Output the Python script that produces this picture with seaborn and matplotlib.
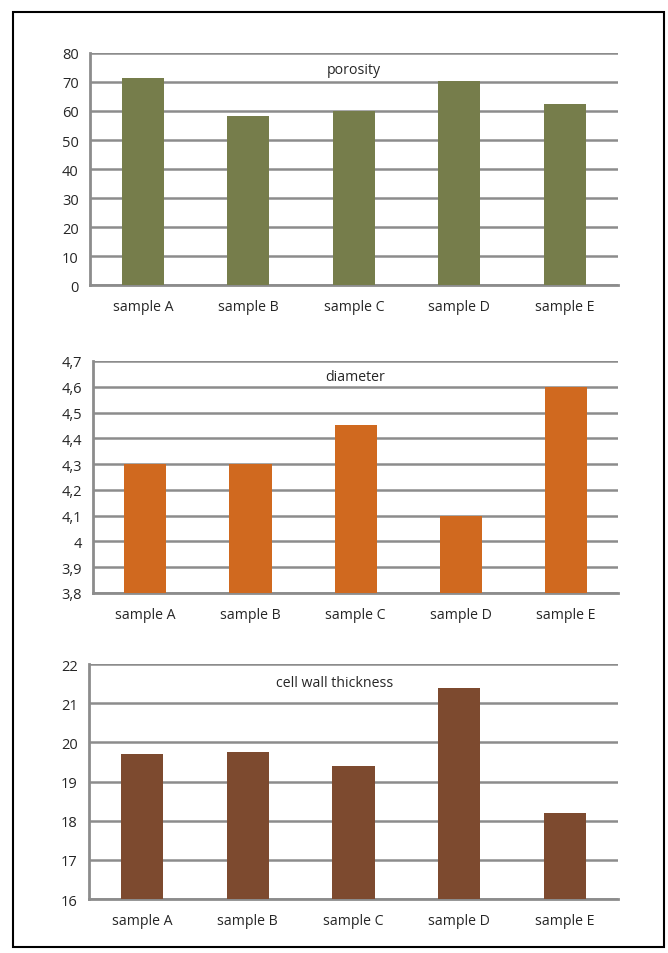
import matplotlib
matplotlib.use("Agg")
import matplotlib.pyplot as plt
import seaborn as sns
import pandas as pd
from matplotlib.patches import Rectangle
from matplotlib.ticker import FixedLocator

samples = ["sample A", "sample B", "sample C", "sample D", "sample E"]

porosity = [71.5, 58.3, 60.0, 70.2, 62.5]
diameter = [4.30, 4.30, 4.45, 4.10, 4.60]
cell_wall = [19.7, 19.75, 19.4, 21.4, 18.2]

porosity_ticks = [0, 10, 20, 30, 40, 50, 60, 70, 80]
porosity_labels = ["0", "10", "20", "30", "40", "50", "60", "70", "80"]
diameter_ticks = [3.8, 3.9, 4.0, 4.1, 4.2, 4.3, 4.4, 4.5, 4.6, 4.7]
diameter_labels = ["3,8", "3,9", "4", "4,1", "4,2", "4,3", "4,4", "4,5", "4,6", "4,7"]
wall_ticks = [16, 17, 18, 19, 20, 21, 22]
wall_labels = ["16", "17", "18", "19", "20", "21", "22"]

sns.set_theme(style="white")
plt.rcParams["font.family"] = ["Open Sans", "DejaVu Sans"]

GRID = "#8c8c8c"
TEXT = "#262626"

fig = plt.figure(figsize=(6.68, 9.54), dpi=100)
fig.patch.set_facecolor("white")

panels = [
    dict(rect=[0.1347, 0.7002, 0.790, 0.2432], values=porosity, color="#767d4b",
         ticks=porosity_ticks, labels=porosity_labels, title="porosity", tx=0.5, ty=0.93),
    dict(rect=[0.1392, 0.3774, 0.786, 0.2432], values=diameter, color="#d0691f",
         ticks=diameter_ticks, labels=diameter_labels, title="diameter", tx=0.5, ty=0.935),
    dict(rect=[0.1332, 0.0566, 0.792, 0.2463], values=cell_wall, color="#7d4a2f",
         ticks=wall_ticks, labels=wall_labels, title="cell wall thickness", tx=0.465, ty=0.92),
]

for p in panels:
    ax = fig.add_axes(p["rect"])
    df = pd.DataFrame({"sample": samples, "value": p["values"]})
    sns.barplot(data=df, x="sample", y="value", color=p["color"], width=0.4,
                saturation=1, linewidth=0, edgecolor="none", ax=ax, zorder=3)
    lo, hi = p["ticks"][0], p["ticks"][-1]
    ax.set_ylim(lo, hi)
    ax.set_xlim(-0.5, len(samples) - 0.5)
    ax.set_yticks(p["ticks"])
    ax.set_yticklabels(p["labels"], fontsize=10.5, color=TEXT)
    ax.set_xticks(range(len(samples)))
    ax.set_xticklabels(samples, fontsize=10.2, color=TEXT)
    ax.xaxis.set_minor_locator(FixedLocator([i - 0.5 for i in range(len(samples) + 1)]))
    ax.tick_params(axis="x", which="major", length=0, pad=10)
    ax.tick_params(axis="x", which="minor", length=4, width=1.5, color=GRID, direction="out")
    ax.tick_params(axis="y", length=5, width=1.5, color=GRID, direction="out", pad=3)
    ax.set_xlabel("")
    ax.set_ylabel("")
    ax.yaxis.grid(True, color=GRID, linewidth=1.8, zorder=0)
    ax.xaxis.grid(False)
    ax.set_axisbelow(True)
    for side in ["top", "right"]:
        ax.spines[side].set_visible(False)
    for side in ["left", "bottom"]:
        ax.spines[side].set_color(GRID)
        ax.spines[side].set_linewidth(2)
    ax.text(p["tx"], p["ty"], p["title"], transform=ax.transAxes, ha="center",
            va="center", fontsize=10.2, color=TEXT, zorder=5)

fig.patches.append(Rectangle((0.0195, 0.0063), 0.9746, 0.980, transform=fig.transFigure,
                             fill=False, edgecolor="black", linewidth=1.5))

fig.savefig("out.png", dpi=100)
